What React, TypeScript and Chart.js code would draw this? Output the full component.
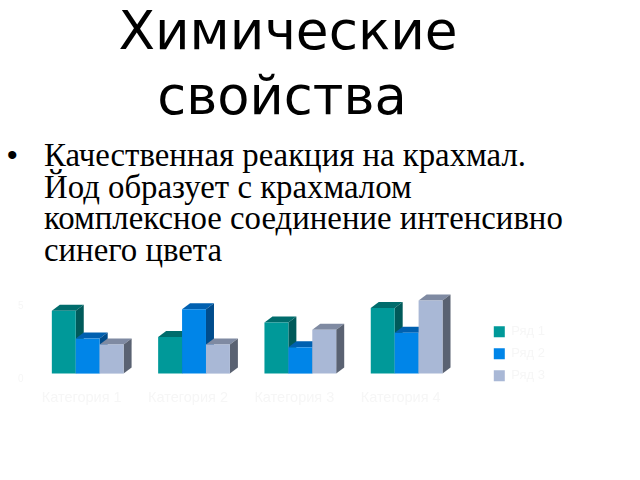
import React, { useEffect, useRef } from "react";
import { Chart, registerables } from "chart.js";

Chart.register(...registerables);

const categories = ["Категория 1", "Категория 2", "Категория 3", "Категория 4"];
const series1 = [4.3, 2.5, 3.5, 4.5];
const series2 = [2.4, 4.4, 1.8, 2.8];
const series3 = [2, 2, 3, 5];
const seriesNames = ["Ряд 1", "Ряд 2", "Ряд 3"];
const shownTicks = [0, 5];
const frontColors = ["#009999", "#0085E8", "#A9B8D6"];
const topColors = ["#006C6C", "#0060B0", "#7F8AA2"];
const sideColors = ["#005A5A", "#004C8C", "#5A6272"];
const titleLines = ["Химические", "свойства"];
const bodyLines = [
  "Качественная реакция на крахмал.",
  "Йод образует с крахмалом",
  "комплексное соединение интенсивно",
  "синего цвета",
];

const faint = "#F6F6F6";
const depthX = 8;
const depthY = 6;
const legendShiftX = 25;
const legendShiftY = 6;

const depthPlugin = {
  id: "barDepth",
  afterLayout(chart: any) {
    chart.legend.left += legendShiftX;
    chart.legend.right += legendShiftX;
    chart.legend.top += legendShiftY;
    chart.legend.bottom += legendShiftY;
  },
  beforeDatasetsDraw(chart: any) {
    const { ctx } = chart;
    chart.data.datasets.forEach((_: any, i: number) => {
      const meta = chart.getDatasetMeta(i);
      ctx.save();
      meta.data.forEach((bar: any) => {
        const { x, y, base, width } = bar.getProps(["x", "y", "base", "width"], true);
        const l = x - width / 2;
        const r = x + width / 2;
        ctx.fillStyle = topColors[i];
        ctx.beginPath();
        ctx.moveTo(l, y);
        ctx.lineTo(l + depthX, y - depthY);
        ctx.lineTo(r + depthX, y - depthY);
        ctx.lineTo(r, y);
        ctx.closePath();
        ctx.fill();
        ctx.fillStyle = sideColors[i];
        ctx.beginPath();
        ctx.moveTo(r, y);
        ctx.lineTo(r + depthX, y - depthY);
        ctx.lineTo(r + depthX, base - depthY);
        ctx.lineTo(r, base);
        ctx.closePath();
        ctx.fill();
      });
      ctx.restore();
      meta.controller.draw();
    });
    return false;
  },
};

export default function App() {
  const ref = useRef<HTMLCanvasElement>(null);
  useEffect(() => {
    const values = [series1, series2, series3];
    const chart = new Chart(ref.current!, {
      type: "bar",
      data: {
        labels: categories,
        datasets: values.map((data, i) => ({
          label: seriesNames[i],
          data,
          backgroundColor: frontColors[i],
          borderWidth: 0,
          categoryPercentage: 0.675,
          barPercentage: 1,
        })),
      },
      options: {
        animation: false,
        responsive: false,
        devicePixelRatio: 1,
        layout: { padding: { top: 3.5, bottom: 12, left: 15, right: 110 } },
        plugins: {
          title: { display: false },
          tooltip: { enabled: false },
          legend: {
            position: "right",
            labels: {
              boxWidth: 11,
              boxHeight: 11,
              padding: 9,
              color: faint,
              font: { family: "Liberation Sans", size: 13 },
            },
          },
        },
        scales: {
          x: {
            grid: { display: false },
            border: { display: false },
            ticks: {
              color: faint,
              labelOffset: -6,
              padding: 8,
              maxRotation: 0,
              font: { family: "Liberation Sans", size: 14.5 },
            },
          },
          y: {
            min: 0,
            max: 6,
            grid: { display: false },
            border: { display: false },
            ticks: {
              stepSize: 1,
              autoSkip: false,
              color: faint,
              labelOffset: 6,
              callback: (v: number) => (shownTicks.includes(v) ? String(v) : ""),
              font: { family: "Liberation Sans", size: 10 },
            },
          },
        },
      },
      plugins: [depthPlugin],
    } as any);
    return () => chart.destroy();
  }, []);

  return (
    <div style={{ position: "absolute", left: 0, top: 0, width: 640, height: 480, background: "#fff", overflow: "hidden" }}>
      {titleLines.map((t, i) => (
        <div
          key={t}
          style={{
            position: "absolute", left: 0, width: i === 0 ? 576 : 564, textAlign: "center",
            top: 1 + i * 65, fontFamily: "DejaVu Sans", fontSize: i === 0 ? 53.3 : 52.7, lineHeight: "60px", color: "#000",
          }}
        >
          {t}
        </div>
      ))}
      <div style={{ position: "absolute", left: 7, top: 135, fontFamily: "Liberation Sans", fontSize: 30, lineHeight: "40px", color: "#000" }}>•</div>
      {bodyLines.map((t, i) => (
        <div
          key={t}
          style={{
            position: "absolute", left: 44, top: 137 + i * 31.7, whiteSpace: "nowrap",
            fontFamily: "Liberation Serif", fontSize: 32.8, lineHeight: "36px", color: "#000",
          }}
        >
          {t}
        </div>
      ))}
      <canvas ref={ref} width={640} height={150} style={{ position: "absolute", left: 0, top: 277, width: 640, height: 150 }} />
    </div>
  );
}
